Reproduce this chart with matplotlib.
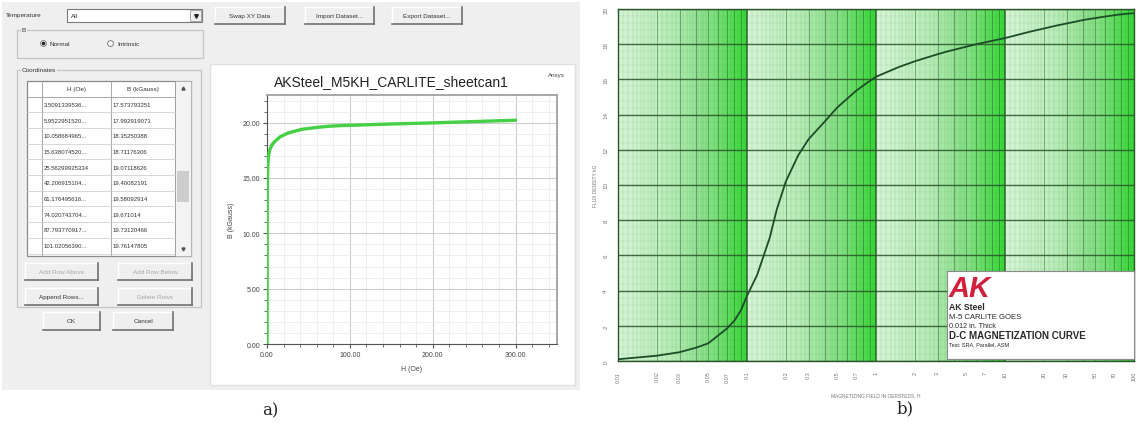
import numpy as np
import matplotlib.pyplot as plt
from matplotlib.patches import Rectangle
from matplotlib.colors import LinearSegmentedColormap
from matplotlib.ticker import MultipleLocator, FormatStrFormatter, NullLocator

plt.rcParams['font.family'] = ['Liberation Sans', 'DejaVu Sans']

W, H = 1137, 431

# Ansys coordinate table: H (Oe) and B (kGauss)
table_h = [3.5091339536381, 5.9522951520417, 10.058684965027, 15.638074520362, 25.56299925334,
           42.206915104271, 61.176495616243, 74.020743704118, 87.793770917025, 101.02056390314]
table_b = [17.573793251, 17.992919071, 18.352503880, 18.711763060, 19.071186260,
           19.400821910, 19.580929140, 19.671014000, 19.731204660, 19.761478050]

# low-field part of the AK Steel D-C curve (Oe, kG)
low_h = [0.01, 0.02, 0.03, 0.04, 0.05, 0.07, 0.08, 0.09, 0.1, 0.12, 0.15, 0.17, 0.2, 0.25,
         0.3, 0.4, 0.5, 0.7, 0.85, 1, 1.5, 2, 3]
low_b = [0.1, 0.3, 0.5, 0.75, 1.0, 1.85, 2.3, 2.9, 3.7, 4.9, 7.0, 8.6, 10.2, 11.7,
         12.6, 13.6, 14.4, 15.35, 15.8, 16.15, 16.7, 17.03, 17.43]

# high-field tail of the Ansys dataset
tail_h = [150, 200, 250, 300]
tail_b = [19.88, 19.98, 20.10, 20.22]

ansys_h = [0.0] + low_h + table_h + tail_h
ansys_b = [0.0] + low_b + table_b + tail_b
ak_h = low_h + table_h
ak_b = low_b + table_b

ak_ticks = [0.01, 0.02, 0.03, 0.05, 0.07, 0.1, 0.2, 0.3, 0.5, 0.7,
            1, 2, 3, 5, 7, 10, 20, 30, 50, 70, 100]
ak_tick_labels = ['0.01', '0.02', '0.03', '0.05', '0.07', '0.1', '0.2', '0.3', '0.5', '0.7',
                  '1', '2', '3', '5', '7', '10', '20', '30', '50', '70', '100']

legend_lines = ['AK Steel', 'M-5 CARLITE GOES', '0.012 in. Thick',
                'D-C MAGNETIZATION CURVE', 'Test: SRA, Parallel, ASM']


def box(x0, y0, x1, y1):
    return [x0 / W, 1 - y1 / H, (x1 - x0) / W, (y1 - y0) / H]


fig = plt.figure(figsize=(W / 100, H / 100), dpi=100)
bg = fig.add_axes([0, 0, 1, 1])
bg.set_xlim(0, W)
bg.set_ylim(H, 0)
bg.axis('off')

DLG = '#efefef'
TXT = '#333333'


def rect(x0, y0, x1, y1, fc='none', ec='none', lw=0.8, z=1):
    bg.add_patch(Rectangle((x0, y0), x1 - x0, y1 - y0, fc=fc, ec=ec, lw=lw, zorder=z))


def button(x0, y0, x1, y1, label, enabled=True):
    rect(x0, y0, x1, y1, fc=DLG, z=2)
    bg.plot([x0, x1], [y0, y0], color='white', lw=1, zorder=3)
    bg.plot([x0, x0], [y0, y1], color='white', lw=1, zorder=3)
    bg.plot([x0, x1], [y1, y1], color='#707070', lw=1.2, zorder=3)
    bg.plot([x1, x1], [y0, y1], color='#707070', lw=1.2, zorder=3)
    bg.text((x0 + x1) / 2, (y0 + y1) / 2, label, ha='center', va='center', fontsize=4.6,
            color=TXT if enabled else '#a8a8a8', zorder=4)


def group(x0, y0, x1, y1, label):
    rect(x0, y0, x1, y1, ec='#c4c4c4', lw=0.9, z=2)
    bg.text(x0 + 5, y0, label, ha='left', va='center', fontsize=4.6, color=TXT, zorder=4,
            bbox=dict(fc=DLG, ec='none', pad=0.6))


# dialog background and white chart panel
rect(2, 3, 580, 391, fc=DLG, z=0)
rect(210, 65, 575, 386, fc='white', ec='#e0e0e0', lw=1.0, z=1)

# temperature selector
bg.text(6, 16, 'Temperature', fontsize=4.6, va='center', color=TXT)
rect(67, 10, 202, 23, fc='white', ec='#7a7a7a', lw=0.8, z=2)
bg.text(71, 16.5, 'All', fontsize=4.6, va='center', color=TXT, zorder=4)
rect(190, 11, 201, 22, fc=DLG, ec='#9a9a9a', lw=0.6, z=3)
bg.plot(195.5, 16.5, marker='v', ms=2.6, color='#222222', zorder=4)

# B group with radio buttons
group(17, 31, 203, 59, 'B')
bg.plot(43, 44, marker='o', ms=4.2, mfc='white', mec='#808080', mew=0.7, zorder=4)
bg.plot(43, 44, marker='o', ms=1.6, color='#222222', zorder=5)
bg.text(50, 44, 'Normal', fontsize=4.6, va='center', color=TXT)
bg.plot(110, 44, marker='o', ms=4.2, mfc='white', mec='#808080', mew=0.7, zorder=4)
bg.text(117, 44, 'Intrinsic', fontsize=4.6, va='center', color=TXT)

# top buttons
button(215, 8, 285, 25, 'Swap XY Data')
button(305, 8, 374, 25, 'Import Dataset...')
button(392, 8, 462, 25, 'Export Dataset...')

# coordinates table
group(17, 71, 201, 308, 'Coordinates')
rect(27, 82, 191, 257, fc='white', ec='#8a8a8a', lw=0.9, z=2)
rect(175, 82, 191, 257, fc='#f3f3f3', ec='#b0b0b0', lw=0.5, z=3)
rect(177, 172, 189, 203, fc='#cdcdcd', ec='none', z=4)
bg.plot(183, 89, marker='^', ms=2.2, color='#555555', zorder=5)
bg.plot(183, 250, marker='v', ms=2.2, color='#555555', zorder=5)
col_x = [27, 42, 111, 175]
row_h = 15.7
for x in col_x[1:]:
    bg.plot([x, x], [82, 257], color='#9a9a9a', lw=0.6, zorder=3)
bg.plot([27, 175], [97.5, 97.5], color='#9a9a9a', lw=0.6, zorder=3)
bg.text(76.5, 90, 'H (Oe)', ha='center', va='center', fontsize=4.6, color=TXT, zorder=4)
bg.text(143, 90, 'B (kGauss)', ha='center', va='center', fontsize=4.6, color=TXT, zorder=4)


def cell_text(v):
    s = repr(v)
    return s if len(s) <= 14 else s[:12] + '...'


for i, (hv, bv) in enumerate(zip(table_h, table_b)):
    yc = 97.5 + row_h * (i + 0.5)
    bg.plot([27, 175], [97.5 + row_h * (i + 1)] * 2, color='#c8c8c8', lw=0.5, zorder=3)
    bg.text(44, yc, cell_text(hv), va='center', fontsize=4.3, color=TXT, zorder=4)
    bg.text(113, yc, cell_text(bv), va='center', fontsize=4.3, color=TXT, zorder=4)

button(25, 264, 98, 281, 'Add Row Above', enabled=False)
button(118, 264, 192, 281, 'Add Row Below', enabled=False)
button(25, 289, 98, 306, 'Append Rows...')
button(118, 289, 192, 306, 'Delete Rows', enabled=False)
button(43, 313, 100, 331, 'OK')
button(113, 313, 173, 331, 'Cancel')

# Ansys B-H chart
bg.text(391, 82, 'AKSteel_M5KH_CARLITE_sheetcan1', ha='center', va='center',
        fontsize=10, color='#222222', zorder=4)
bg.text(556, 76, 'Ansys', ha='center', va='center', fontsize=4.5, color='#444444', zorder=4)

ax1 = fig.add_axes(box(267, 96, 557, 345))
ax1.plot(ansys_h, ansys_b, color='#45d045', lw=2.4, solid_capstyle='round', zorder=3)
ax1.set_xlim(0, 350)
ax1.set_ylim(0, 22.5)
ax1.xaxis.set_major_locator(MultipleLocator(100))
ax1.xaxis.set_minor_locator(MultipleLocator(20))
ax1.yaxis.set_major_locator(MultipleLocator(5))
ax1.yaxis.set_minor_locator(MultipleLocator(1))
ax1.xaxis.set_major_formatter(FormatStrFormatter('%.2f'))
ax1.yaxis.set_major_formatter(FormatStrFormatter('%.2f'))
ax1.grid(which='major', color='#cdcdcd', lw=0.8)
ax1.grid(which='minor', color='#ececec', lw=0.6)
ax1.set_axisbelow(True)
ax1.tick_params(which='major', labelsize=5, length=3, color='#555555', labelcolor='#444444', pad=2)
ax1.tick_params(which='minor', length=2, color='#555555')
for side in ('left', 'bottom'):
    ax1.spines[side].set_color('#555555')
for side in ('top', 'right'):
    ax1.spines[side].set_color('#a0a0a0')
    ax1.spines[side].set_linewidth(1.3)
ax1.set_xlabel('H (Oe)', fontsize=5, color='#444444', labelpad=5)
ax1.set_ylabel('B (kGauss)', fontsize=5, color='#444444', labelpad=5)

# AK Steel semilog magnetization chart
ax2 = fig.add_axes(box(618, 10, 1134, 362))
ax2.set_xscale('log')
ax2.set_xlim(0.01, 100)
ax2.set_ylim(0, 20)

shade = LinearSegmentedColormap.from_list('shade', ['#d4f4d4', '#b4ebb4', '#7fe07f', '#34d934'])
steps = np.arange(1.0, 10.0001, 0.1)
fine = np.concatenate([np.arange(1.1, 2.0, 0.1), np.arange(2.2, 5.0, 0.2),
                       np.arange(5.5, 10.0, 0.5)])
for dec in [0.01, 0.1, 1, 10]:
    xe = dec * steps
    mid = np.log10(0.5 * (steps[:-1] + steps[1:]))
    ax2.pcolormesh(xe, [0, 20], (mid ** 1.3)[None, :], cmap=shade, vmin=0, vmax=1,
                   shading='flat', zorder=0)
    for m in fine:
        ax2.axvline(dec * m, color='#3f7f3f', lw=0.3, alpha=0.35, zorder=1)
    for m in range(2, 10):
        ax2.axvline(dec * m, color='#2f6a2f', lw=0.6, alpha=0.6, zorder=1)
    ax2.axvline(dec, color='#2a552a', lw=1.2, alpha=0.85, zorder=1)
for yv in np.arange(0.4, 20, 0.4):
    ax2.axhline(yv, color='#3f7f3f', lw=0.3, alpha=0.22, zorder=1)
for yv in range(0, 21, 2):
    ax2.axhline(yv, color='#2a552a', lw=1.0, alpha=0.85, zorder=1)

ax2.plot(ak_h, ak_b, color='#1d4d28', lw=1.3, zorder=5)
ax2.xaxis.set_minor_locator(NullLocator())
ax2.set_xticks(ak_ticks)
ax2.set_xticklabels(ak_tick_labels, rotation=90, fontsize=4, color='#777777')
ax2.set_yticks(range(0, 21, 2))
ax2.set_yticklabels([str(v) for v in range(0, 21, 2)], rotation=90, va='center',
                    fontsize=4.5, color='#777777')
ax2.tick_params(length=0, pad=7)
for s in ax2.spines.values():
    s.set_color('#2a552a')
    s.set_linewidth(1.0)
ax2.set_xlabel('MAGNETIZING FIELD IN OERSTEDS, H', fontsize=3.5, color='#777777', labelpad=8)
ax2.set_ylabel('FLUX DENSITY kG', fontsize=3.5, color='#777777', labelpad=4)

# title block
lg = fig.add_axes(box(947, 272, 1134, 360))
lg.set_xlim(0, 187)
lg.set_ylim(88, 0)
lg.set_xticks([])
lg.set_yticks([])
lg.set_facecolor('white')
for s in lg.spines.values():
    s.set_color('#8a8a8a')
    s.set_linewidth(0.8)
lg.text(2, 17, 'AK', color='#d21f3c', fontsize=21, fontweight='heavy', style='italic',
        va='center', ha='left')
line_y = [36, 46, 55, 64, 73]
line_fs = [6.2, 5.6, 5.2, 7.0, 4.0]
line_wt = ['bold', 'normal', 'normal', 'bold', 'normal']
for txt, yv, fs, wt in zip(legend_lines, line_y, line_fs, line_wt):
    lg.text(2, yv, txt, fontsize=fs, fontweight=wt, color='#2a2a2a', va='center', ha='left')

bg.text(270, 411, 'a)', family='DejaVu Serif', fontsize=12, ha='center', va='center', color='#222222')
bg.text(905, 409, 'b)', family='DejaVu Serif', fontsize=12, ha='center', va='center', color='#222222')

fig.savefig('out.png', dpi=100)
